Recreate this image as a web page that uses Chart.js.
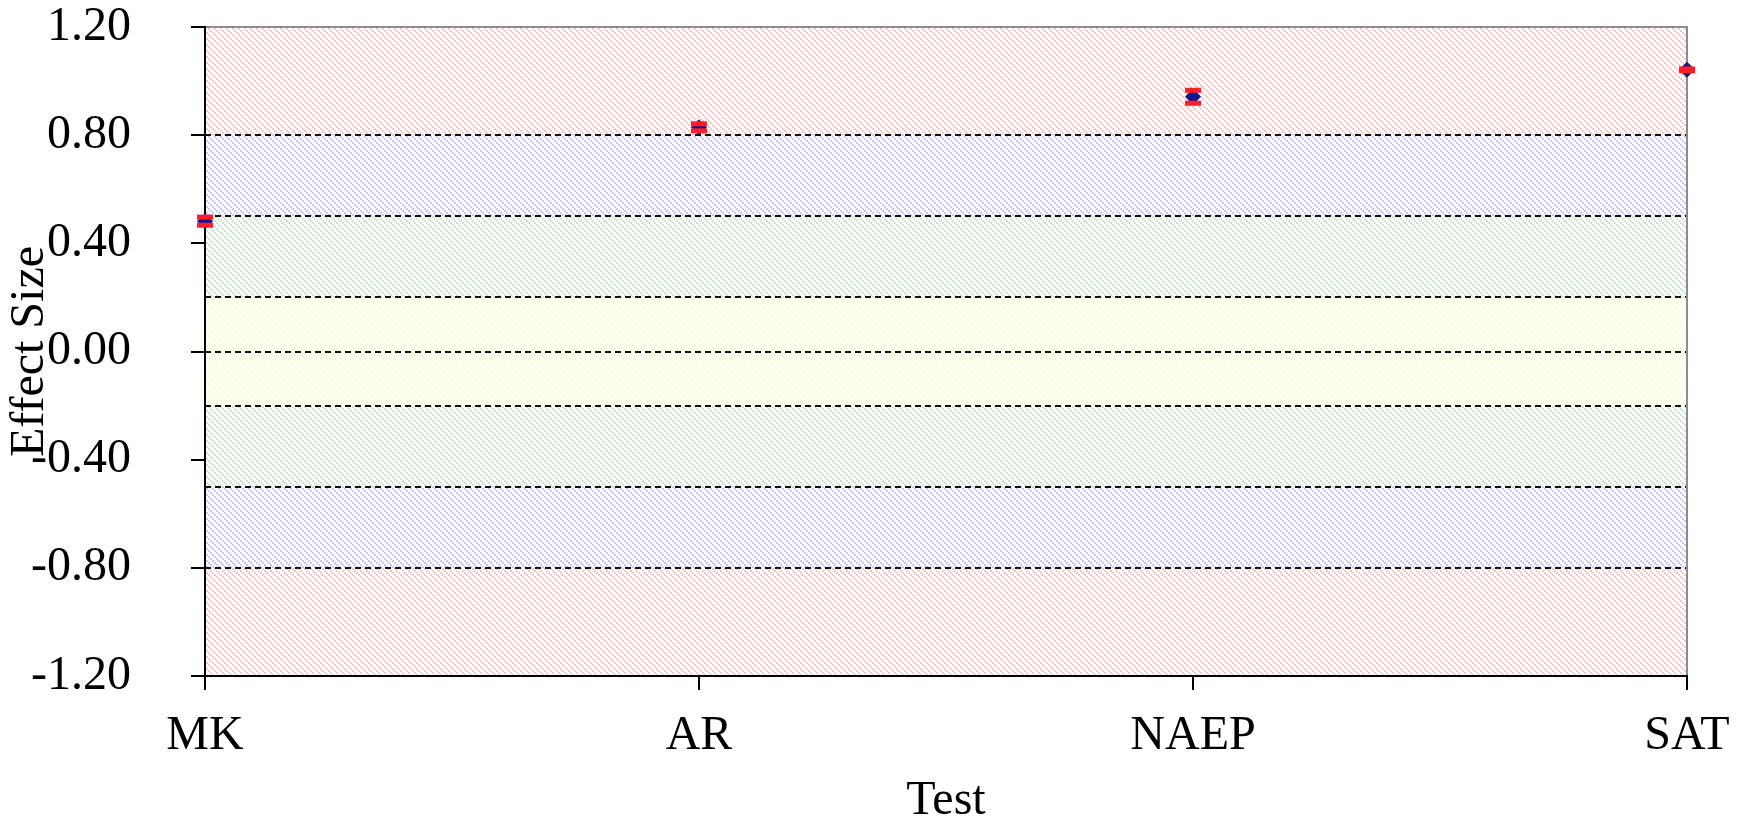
<!DOCTYPE html>
<html>
<head>
<meta charset="utf-8">
<script src="https://cdn.jsdelivr.net/npm/chart.js@4/dist/chart.umd.min.js"></script>
<style>
  html, body { margin: 0; padding: 0; background: #fff; }
  #wrap { width: 1752px; height: 818px; }
</style>
</head>
<body>
<div id="wrap"><canvas id="effectChart"></canvas></div>
<script>
const categories = ["MK", "AR", "NAEP", "SAT"];
const effectSize = [0.482, 0.829, 0.942, 1.042];
const upperCI = [0.497, 0.842, 0.966, 1.045];
const lowerCI = [0.467, 0.816, 0.918, 1.038];
const yTicks = [-1.2, -0.8, -0.4, 0, 0.4, 0.8, 1.2];
// effect size bands (bottom to top) and the dashed cut-offs between them
const bandEdges = [-1.2, -0.8, -0.5, -0.2, 0.2, 0.5, 0.8, 1.2];
const bandNames = ["large", "medium", "small", "none", "small", "medium", "large"];
const cutoffs = [-0.8, -0.5, -0.2, 0, 0.2, 0.5, 0.8];

const bandColors = {
    large: "rgb(255, 198, 198)",
    medium: "rgb(200, 200, 255)",
    small: "rgb(203, 233, 203)",
    none: "rgb(255, 255, 200)",
};

const serif = "'Liberation Serif', 'Times New Roman', serif";

function hatch(color) {
    const c = document.createElement('canvas');
    c.width = 6;
    c.height = 6;
    const g = c.getContext('2d');
    g.fillStyle = color;
    for (let k = 0; k < 3; k++) {
        g.fillRect(2 * k, 2 * k, 2, 2);
    }
    return g.createPattern(c, 'repeat');
}

const bandsPlugin = {
    id: 'bands',
    beforeDraw(chart) {
        const { ctx, chartArea: a, scales: { y } } = chart;
        ctx.save();
        for (let i = 0; i < bandNames.length; i++) {
            const top = y.getPixelForValue(bandEdges[i + 1]);
            const bottom = y.getPixelForValue(bandEdges[i]);
            ctx.fillStyle = hatch(bandColors[bandNames[i]]);
            ctx.fillRect(a.left, top, a.right - a.left, bottom - top);
        }
        ctx.strokeStyle = "#111";
        ctx.lineWidth = 2;
        ctx.setLineDash([6, 4]);
        cutoffs.forEach(v => {
            const py = Math.round(y.getPixelForValue(v));
            ctx.beginPath();
            ctx.moveTo(a.left, py);
            ctx.lineTo(a.right, py);
            ctx.stroke();
        });
        // grey frame on top and right
        ctx.setLineDash([]);
        ctx.strokeStyle = "#8c8c8c";
        ctx.lineWidth = 2;
        ctx.beginPath();
        ctx.moveTo(a.left, a.top);
        ctx.lineTo(a.right, a.top);
        ctx.lineTo(a.right, a.bottom);
        ctx.stroke();
        ctx.restore();
    }
};

const ctx = document.getElementById('effectChart').getContext('2d');

const effectChart = new Chart(ctx, {
    type: "line",
    data: {
        labels: categories,
        datasets: [
            {
                label: "Upper",
                data: upperCI,
                showLine: false,
                pointStyle: "line",
                pointRadius: 8,
                pointHoverRadius: 8,
                borderColor: "rgb(255, 30, 40)",
                borderWidth: 5,
                order: 1,
                clip: false,
            },
            {
                label: "Lower",
                data: lowerCI,
                showLine: false,
                pointStyle: "line",
                pointRadius: 8,
                pointHoverRadius: 8,
                borderColor: "rgb(255, 30, 40)",
                borderWidth: 5,
                order: 1,
                clip: false,
            },
            {
                label: "Effect Size",
                data: effectSize,
                showLine: false,
                pointStyle: "rectRot",
                pointRadius: 7.5,
                pointHoverRadius: 7.5,
                backgroundColor: "rgb(20, 20, 140)",
                borderColor: "rgb(20, 20, 140)",
                borderWidth: 1,
                order: 2,
                clip: false,
            },
        ],
    },
    options: {
        responsive: true,
        maintainAspectRatio: false,
        animation: false,
        layout: {
            padding: { top: 27, right: 65, bottom: 0, left: 0 }
        },
        scales: {
            x: {
                offset: false,
                border: { color: "#000", width: 2 },
                grid: {
                    drawOnChartArea: false,
                    drawTicks: true,
                    tickLength: 14,
                    color: "#000",
                    lineWidth: 2,
                },
                ticks: {
                    autoSkip: false,
                    maxRotation: 0,
                    padding: 18,
                    color: "#000",
                    font: { family: serif, size: 48, lineHeight: 1.2 },
                },
                title: {
                    display: true,
                    text: "Test",
                    color: "#000",
                    padding: 0,
                    font: { family: serif, size: 48, lineHeight: 0.68 },
                },
                afterFit(axis) {
                    axis.height = 142;
                },
            },
            y: {
                min: -1.2,
                max: 1.2,
                border: { color: "#000", width: 2 },
                grid: {
                    drawOnChartArea: false,
                    drawTicks: true,
                    tickLength: 14,
                    color: "#000",
                    lineWidth: 2,
                },
                afterBuildTicks(axis) {
                    axis.ticks = yTicks.map(v => ({ value: v }));
                },
                ticks: {
                    padding: 60,
                    color: "#000",
                    font: { family: serif, size: 48, lineHeight: 1.0 },
                    callback: v => (Math.abs(v) < 1e-9 ? 0 : v).toFixed(2),
                },
                title: {
                    display: true,
                    text: "Effect Size",
                    color: "#000",
                    padding: { top: 2, bottom: 0 },
                    font: { family: serif, size: 48, lineHeight: 1.2 },
                },
                afterFit(axis) {
                    axis.width = 205;
                    axis.paddingTop = 0;
                    axis.paddingBottom = 0;
                },
            }
        },
        plugins: {
            legend: { display: false },
            tooltip: { enabled: false },
        }
    },
    plugins: [bandsPlugin],
});
</script>
</body>
</html>
